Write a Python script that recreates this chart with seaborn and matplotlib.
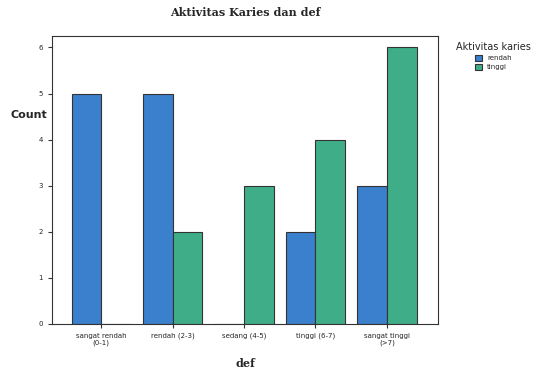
import matplotlib
matplotlib.use("Agg")
import matplotlib.pyplot as plt
import seaborn as sns
import pandas as pd

sns.set_style("white")
plt.rcParams['font.family'] = ['DejaVu Sans']

# data
categories = ["sangat rendah\n(0-1)", "rendah (2-3)", "sedang (4-5)", "tinggi (6-7)", "sangat tinggi\n(>7)"]
rendah = [5, 5, 0, 2, 3]
tinggi = [0, 2, 3, 4, 6]

df = pd.DataFrame({
    "def": categories * 2,
    "Count": rendah + tinggi,
    "Aktivitas karies": ["rendah"] * 5 + ["tinggi"] * 5,
})

fig = plt.figure(figsize=(5.52, 3.74), dpi=100)
ax = fig.add_axes([0.094, 0.134, 0.70, 0.77])

sns.barplot(data=df, x="def", y="Count", hue="Aktivitas karies",
            palette=["#3b80cc", "#3fae88"], width=0.83, saturation=1,
            edgecolor="#333333", linewidth=0.8, ax=ax)

ax.set_ylim(0, 6.25)
ax.set_xlim(-0.69, 4.72)
ax.set_yticks(range(7))
ax.tick_params(axis="both", labelsize=5, length=3, direction="out", color="#333333")
ax.tick_params(bottom=True, left=True)
for s in ax.spines.values():
    s.set_color("#333333")
    s.set_linewidth(0.8)

ax.set_xlabel("def", fontsize=8, fontweight="bold", family="DejaVu Serif", labelpad=8)
ax.set_ylabel("Count", fontsize=8, fontweight="bold", rotation=0, va="center")
ax.yaxis.set_label_coords(-0.06, 0.725)
ax.set_title("Aktivitas Karies dan def", fontsize=8, fontweight="bold",
             family="DejaVu Serif", pad=14)

leg = ax.legend(title="Aktivitas karies", loc="upper left", bbox_to_anchor=(1.03, 1.0),
                frameon=False, fontsize=5, title_fontsize=7, handlelength=0.9,
                handleheight=0.9, labelspacing=0.4)
for h in leg.legend_handles:
    h.set_edgecolor("#333333")

fig.savefig("out.png", dpi=100)
